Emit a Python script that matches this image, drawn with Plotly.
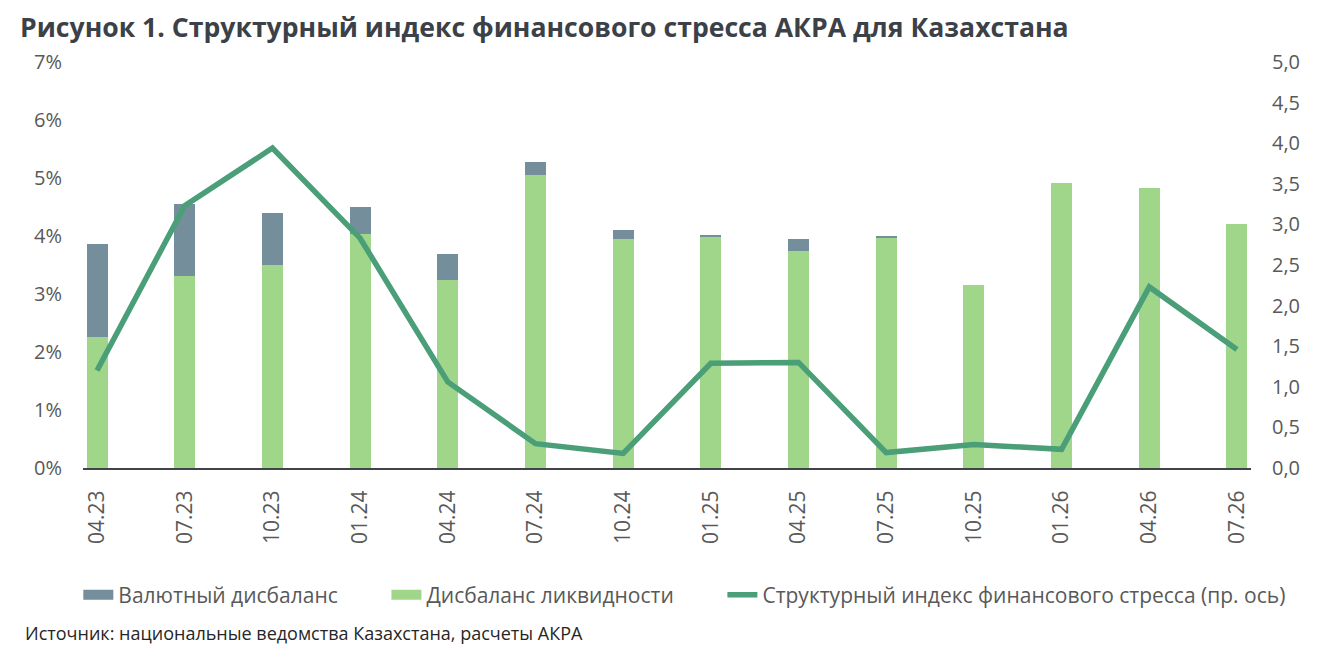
import plotly.graph_objects as go

categories = ["04.23", "07.23", "10.23", "01.24", "04.24", "07.24", "10.24",
              "01.25", "04.25", "07.25", "10.25", "01.26", "04.26", "07.26"]
liquidity = [2.26, 3.31, 3.50, 4.04, 3.25, 5.06, 3.94, 3.99, 3.75, 3.97, 3.16, 4.91, 4.83, 4.21]
currency = [1.60, 1.24, 0.90, 0.46, 0.44, 0.22, 0.16, 0.02, 0.20, 0.02, 0.0, 0.0, 0.0, 0.0]
stress_index = [1.20, 3.23, 3.94, 2.83, 1.06, 0.30, 0.18, 1.29, 1.30, 0.19, 0.29, 0.23, 2.23, 1.46]

FONT = "Open Sans"
TXT = "#595959"
C_LIQ = "#a0d68a"
C_CUR = "#758e9b"
C_LINE = "#4a9e78"
PAD = "\u00a0" * 8  # extra spacing between legend entries, as in the original

fig = go.Figure()
fig.add_trace(go.Bar(x=categories, y=liquidity, name="Дисбаланс ликвидности",
                     marker=dict(color=C_LIQ, line=dict(width=0)), showlegend=False))
fig.add_trace(go.Bar(x=categories, y=currency, name="Валютный дисбаланс",
                     marker=dict(color=C_CUR, line=dict(width=0)), showlegend=False))
fig.add_trace(go.Scatter(x=categories, y=stress_index, yaxis="y2", mode="lines",
                         name="Структурный индекс финансового стресса (пр. ось)",
                         line=dict(color=C_LINE, width=5.5), showlegend=False))

# legend-only entries (no data) so the legend keys look like the original's wide swatches
fig.add_trace(go.Scatter(x=[None], y=[None], mode="lines", name="Валютный дисбаланс" + PAD,
                         line=dict(color=C_CUR, width=14), legendrank=1))
fig.add_trace(go.Scatter(x=[None], y=[None], mode="lines", name="Дисбаланс ликвидности" + PAD,
                         line=dict(color=C_LIQ, width=14), legendrank=2))
fig.add_trace(go.Scatter(x=[None], y=[None], mode="lines", yaxis="y2",
                         name="Структурный индекс финансового стресса (пр. ось)",
                         line=dict(color=C_LINE, width=5.5), legendrank=3))

fig.update_layout(
    width=1321, height=651,
    margin=dict(l=75, r=78, t=54, b=191),
    plot_bgcolor="white", paper_bgcolor="white",
    barmode="stack", bargap=0.76,
    separators=", ",
    font=dict(family=FONT, color=TXT, size=20),
    title=dict(text="<b>Рисунок 1. Структурный индекс финансового стресса АКРА для Казахстана</b>",
               x=12/1321, xref="container", xanchor="left",
               y=1-19.5/651, yref="container", yanchor="middle",
               font=dict(family=FONT, size=26.6, color="#3c4148")),
    xaxis=dict(type="category", range=[-0.16, 13.16], tickangle=-90,
               showline=True, linecolor="#404449", linewidth=2, showgrid=False,
               ticks="", ticklabelstandoff=12, tickfont=dict(size=21, color=TXT)),
    yaxis=dict(range=[0, 7], dtick=1, ticksuffix="%", showgrid=False, zeroline=False,
               ticks="", ticklabelstandoff=20, tickfont=dict(size=20, color=TXT)),
    yaxis2=dict(range=[0, 5], dtick=0.5, tickformat=".1f", overlaying="y", side="right",
                showgrid=False, zeroline=False, ticks="", ticklabelstandoff=20,
                tickfont=dict(size=20, color=TXT)),
    legend=dict(orientation="h", x=-0.004, xanchor="left", y=-0.313, yanchor="middle",
                font=dict(size=21, color=TXT), traceorder="normal"),
    showlegend=True,
)
fig.add_annotation(text="Источник: национальные ведомства Казахстана, расчеты АКРА",
                   xref="paper", yref="paper", x=-0.0514, y=-0.406,
                   xanchor="left", yanchor="middle", showarrow=False,
                   font=dict(family=FONT, size=18, color="#262626"))

fig.write_html("out.html")
